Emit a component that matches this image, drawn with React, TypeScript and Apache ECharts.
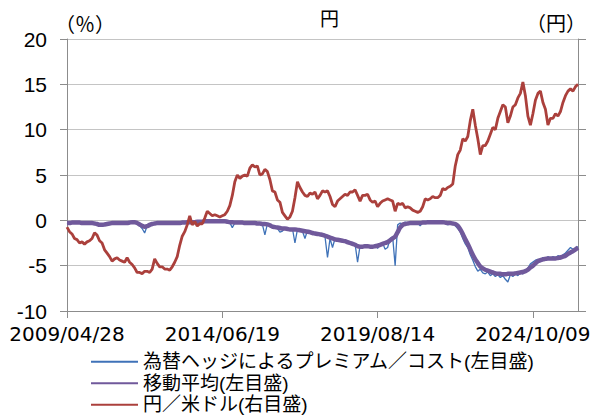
import React, { useEffect, useRef } from "react";
import * as echarts from "echarts";

// x-axis tick labels (one every 62 monthly points, starting 2009/04)
const tickLabels = ["2009/04/28", "2014/06/19", "2019/08/14", "2024/10/09"];
const tickStep = 62;

// 円／米ドル (yen per dollar, right axis), monthly from 2009/04
const usdJpy = [
  97, 95, 94, 92, 91.5, 90, 90.5, 89.5, 90.5,
  91, 92, 94.5, 93.5, 91, 90, 87, 85.5, 84, 82, 83, 83.5,
  82.5, 82, 81.5, 83.5, 81.5, 80.5, 79, 77, 77, 76.5, 77.5, 77.5,
  77, 78.5, 83, 81, 79.5, 79.5, 78.5, 78.5, 78, 79.5, 81.5, 84,
  89, 93, 95, 98, 102, 98, 99.5, 97.5, 98.5, 98.5, 101, 104,
  103, 102, 102.5, 102, 101.5, 102, 102.5, 104, 106.5, 111, 117, 120,
  118.5, 119.5, 120, 119.5, 123, 124.5, 123.5, 124, 120, 120.5, 122.5, 121.5,
  118, 113, 112.5, 109, 108, 103.5, 102, 100.5, 101.5, 104, 110, 117,
  114.5, 112.5, 111, 110.5, 112, 111.5, 112.5, 109.5, 111, 113, 112.5, 113,
  110.5, 107, 106, 108.5, 109.5, 110.5, 111.5, 111, 112.5, 112.5, 113.5, 111,
  108.5, 111, 111, 111.5, 109, 108, 108.5, 106, 107.5, 108.5, 109, 109.5,
  109, 108.5, 104, 107.5, 107, 107.5, 105.5, 106, 105.5, 104.5, 104, 103.5,
  104, 106, 109.5, 109, 109.5, 110.5, 110, 110, 111, 114, 113.5, 114.5,
  115, 116, 124, 129, 131, 136, 135, 137, 144, 149, 142, 136,
  129, 133, 133, 135, 138, 141, 140, 145, 148, 151, 150, 143,
  146, 150, 151, 154, 156, 161, 155, 146, 142, 147, 153, 156,
  157, 152, 149, 142, 145, 145, 147, 146, 148, 152, 155, 157,
  158, 157, 159, 160,
];

// 為替ヘッジによるプレミアム／コスト (%, left axis)
const hedge = [
  -0.35, -0.2, -0.3, -0.2, -0.3, -0.25, -0.35, -0.3, -0.2,
  -0.35, -0.3, -0.45, -0.4, -0.55, -0.45, -0.5, -0.35, -0.4, -0.25, -0.35, -0.3,
  -0.25, -0.35, -0.3, -0.25, -0.3, -0.15, -0.25, -0.35, -0.6, -0.9, -1.4, -0.6,
  -0.45, -0.35, -0.4, -0.25, -0.35, -0.3, -0.25, -0.35, -0.3, -0.25, -0.35, -0.3,
  -0.25, -0.3, -0.2, -0.25, -0.15, -0.25, -0.2, -0.1, -0.2, -0.15, -0.1, -0.05,
  -0.1, -0.15, -0.05, -0.1, -0.15, -0.1, -0.2, -0.1, -0.25, -0.8, -0.3, -0.2,
  -0.3, -0.2, -0.35, -0.25, -0.35, -0.3, -0.25, -0.4, -0.3, -0.45, -1.6, -0.4,
  -0.6, -0.8, -0.65, -0.9, -1.3, -1.2, -0.85, -1.0, -1.1, -0.9, -2.5, -1.0,
  -1.0, -1.2, -2.0, -1.1, -1.2, -1.3, -1.5, -1.4, -1.7, -1.5, -1.8, -4.1,
  -2.0, -3.0, -2.0, -2.3, -2.1, -2.4, -2.2, -2.5, -2.4, -2.7, -2.6, -4.6,
  -2.8, -3.0, -2.7, -2.9, -2.8, -3.0, -2.7, -3.1, -2.6, -2.5, -3.2, -3.0,
  -2.0, -1.8, -5.0, -0.5, -0.3, -0.4, -0.2, -0.3, -0.25, -0.35, -0.2, -0.3,
  -0.6, -0.2, -0.3, -0.15, -0.25, -0.2, -0.15, -0.25, -0.2, -0.3, -0.2, -0.5,
  -0.3, -0.4, -0.6, -0.9, -1.3, -2.0, -2.6, -3.0, -3.8, -4.4, -5.1, -5.6,
  -5.4, -5.8, -5.9, -5.7, -6.1, -5.9, -6.2, -6.0, -6.3, -6.1, -6.5, -6.8,
  -6.0, -6.2, -5.9, -6.1, -5.8, -5.9, -5.5, -5.3, -4.8, -4.6, -4.4, -4.3,
  -4.4, -4.1, -4.3, -4.0, -4.2, -4.0, -4.1, -3.9, -4.0, -3.8, -3.6, -3.3,
  -3.0, -3.2, -3.1, -2.9,
];

// 移動平均 (%, left axis)
const hedgeMA = [
  -0.3, -0.3, -0.25, -0.25, -0.25, -0.25, -0.3, -0.3, -0.3,
  -0.3, -0.3, -0.35, -0.4, -0.5, -0.5, -0.45, -0.4, -0.35, -0.3, -0.3, -0.3,
  -0.3, -0.3, -0.3, -0.3, -0.25, -0.2, -0.2, -0.3, -0.45, -0.6, -0.7, -0.65,
  -0.5, -0.4, -0.35, -0.3, -0.3, -0.3, -0.3, -0.3, -0.3, -0.3, -0.3, -0.3,
  -0.3, -0.25, -0.25, -0.2, -0.2, -0.2, -0.2, -0.15, -0.15, -0.15, -0.1, -0.1,
  -0.1, -0.1, -0.1, -0.1, -0.1, -0.1, -0.1, -0.15, -0.2, -0.2, -0.25, -0.25,
  -0.25, -0.25, -0.3, -0.3, -0.3, -0.3, -0.3, -0.35, -0.35, -0.4, -0.4, -0.45,
  -0.55, -0.7, -0.75, -0.8, -0.85, -0.9, -0.9, -0.95, -1.0, -1.0, -1.0, -1.05,
  -1.1, -1.15, -1.2, -1.25, -1.3, -1.4, -1.45, -1.5, -1.55, -1.6, -1.7, -1.8,
  -1.9, -2.0, -2.1, -2.15, -2.2, -2.25, -2.3, -2.4, -2.5, -2.6, -2.7, -2.85,
  -2.9, -2.9, -2.85, -2.85, -2.9, -2.9, -2.85, -2.8, -2.7, -2.6, -2.5, -2.4,
  -2.2, -2.0, -1.8, -1.3, -0.8, -0.5, -0.4, -0.35, -0.3, -0.3, -0.3, -0.3,
  -0.3, -0.25, -0.25, -0.2, -0.2, -0.2, -0.2, -0.2, -0.2, -0.2, -0.25, -0.3,
  -0.3, -0.35, -0.4, -0.6, -1.0, -1.5, -2.1, -2.6, -3.2, -3.8, -4.3, -4.7,
  -5.1, -5.3, -5.45, -5.55, -5.65, -5.75, -5.85, -5.9, -5.9, -5.95, -5.95, -5.9,
  -5.9, -5.9, -5.85, -5.8, -5.75, -5.7, -5.6, -5.45, -5.2, -5.0, -4.75, -4.5,
  -4.4, -4.3, -4.25, -4.2, -4.2, -4.2, -4.2, -4.15, -4.1, -4.0, -3.9, -3.7,
  -3.55, -3.4, -3.2, -3.0,
];

const seriesNames = [
  "為替ヘッジによるプレミアム／コスト(左目盛)",
  "移動平均(左目盛)",
  "円／米ドル(右目盛)",
];

const categories = usdJpy.map((_, i) => {
  if (i % tickStep === 0) return tickLabels[i / tickStep];
  const y = 2009 + Math.floor((3 + i) / 12);
  const m = ((3 + i) % 12) + 1;
  return `${y}/${String(m).padStart(2, "0")}`;
});

const AXIS_GREY = "#8c8c8c";
const CJK = "'Noto Sans CJK JP', sans-serif";

export default function App() {
  const ref = useRef<HTMLDivElement>(null);
  useEffect(() => {
    if (!ref.current) return;
    const chart = echarts.init(ref.current, null, { renderer: "svg" });
    chart.setOption({
      animation: false,
      backgroundColor: "#ffffff",
      grid: { left: 67, right: 17, top: 39, bottom: 105, containLabel: false },
      graphic: [
        {
          type: "text",
          left: 320,
          top: 8,
          style: { text: "円", font: `19px ${CJK}`, fill: "#000" },
        },
        {
          type: "text",
          left: 55,
          top: 13,
          style: { text: "（％）", font: `20px ${CJK}`, fill: "#000" },
        },
        {
          type: "text",
          left: 526,
          top: 12,
          style: { text: "（円）", font: `20px ${CJK}`, fill: "#000" },
        },
      ],
      legend: {
        orient: "vertical",
        left: 90,
        top: 351,
        itemWidth: 47,
        itemHeight: 12,
        itemGap: 0,
        padding: 0,
        data: seriesNames,
        itemStyle: { opacity: 0, borderWidth: 0 },
        textStyle: {
          fontFamily: "'Liberation Sans', 'Noto Sans CJK JP', sans-serif",
          fontSize: 19,
          lineHeight: 21.5,
          color: "#000",
        },
      },
      xAxis: {
        type: "category",
        data: categories,
        boundaryGap: false,
        axisLine: { show: true, onZero: false, lineStyle: { color: AXIS_GREY, width: 1 } },
        axisTick: { show: true, interval: tickStep - 1, length: 7, lineStyle: { color: AXIS_GREY } },
        axisLabel: {
          interval: tickStep - 1,
          margin: 13,
          fontFamily: "DejaVu Sans",
          fontSize: 20,
          color: "#000",
        },
        splitLine: { show: false },
      },
      yAxis: [
        {
          type: "value",
          min: -10,
          max: 20,
          interval: 5,
          position: "left",
          axisLine: { show: true, lineStyle: { color: AXIS_GREY, width: 1 } },
          axisTick: { show: true, length: 7, lineStyle: { color: AXIS_GREY } },
          axisLabel: {
            margin: 20,
            fontFamily: "Liberation Sans",
            fontSize: 21,
            color: "#000",
          },
          splitLine: { show: true, lineStyle: { color: "#c4c4c4", width: 1 } },
        },
        {
          type: "value",
          min: 60,
          max: 180,
          interval: 20,
          position: "right",
          axisLine: { show: true, lineStyle: { color: AXIS_GREY, width: 1 } },
          axisTick: { show: true, length: 8, lineStyle: { color: AXIS_GREY } },
          axisLabel: { show: false },
          splitLine: { show: false },
        },
      ],
      series: [
        {
          name: seriesNames[0],
          type: "line",
          yAxisIndex: 0,
          data: hedge,
          symbol: "none",
          lineStyle: { color: "#3f72b8", width: 1.3 },
          itemStyle: { color: "#3f72b8" },
        },
        {
          name: seriesNames[1],
          type: "line",
          yAxisIndex: 0,
          data: hedgeMA,
          symbol: "none",
          smooth: 0.3,
          lineStyle: { color: "#70599b", width: 4.5 },
          itemStyle: { color: "#70599b" },
        },
        {
          name: seriesNames[2],
          type: "line",
          yAxisIndex: 1,
          data: usdJpy,
          symbol: "none",
          lineStyle: { color: "#ab403c", width: 2.8 },
          itemStyle: { color: "#ab403c" },
        },
      ],
    });
    return () => chart.dispose();
  }, []);
  return (
    <div
      ref={ref}
      style={{ position: "fixed", left: 0, top: 0, width: 595, height: 416, background: "#fff" }}
    />
  );
}
